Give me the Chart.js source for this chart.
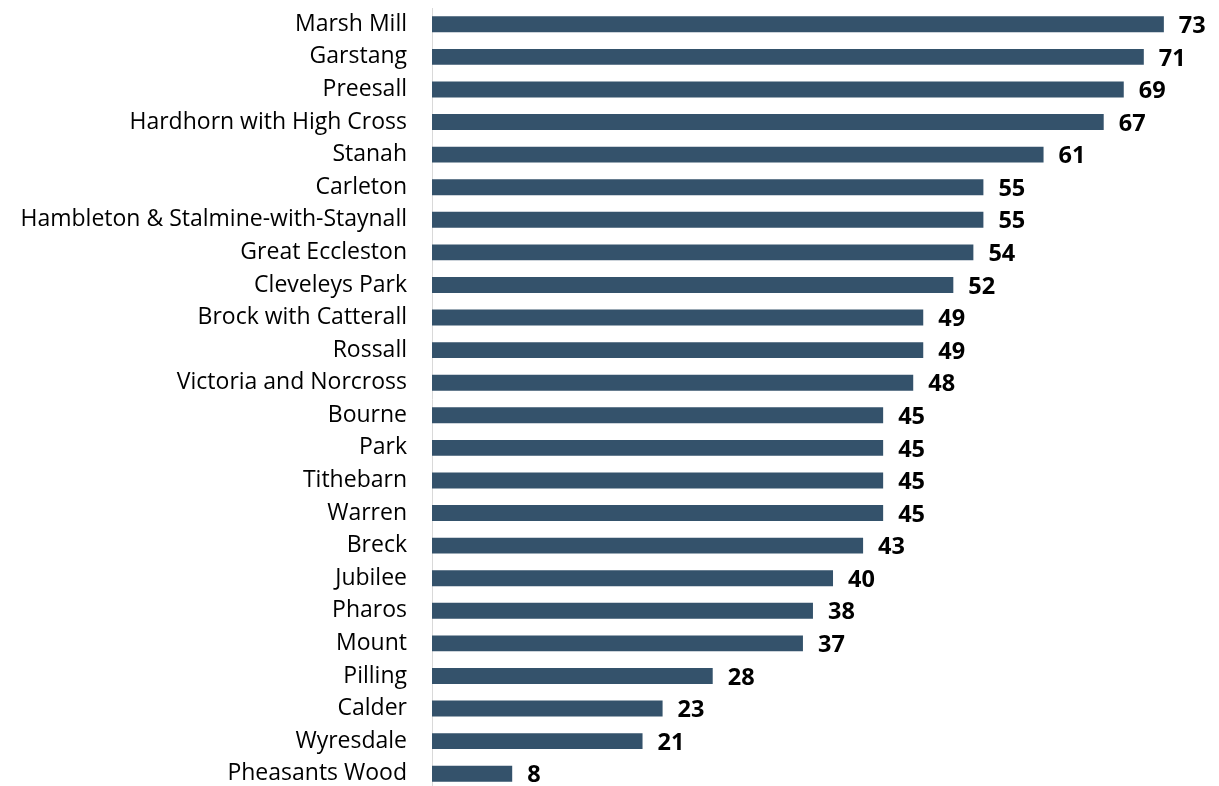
<!DOCTYPE html>
<html>
<head>
<meta charset="utf-8">
<script src="https://cdn.jsdelivr.net/npm/chart.js@4"></script>
<style>
html,body{margin:0;padding:0;background:#fff;overflow:hidden;}
#wrap{width:1219px;height:790px;position:relative;}
</style>
</head>
<body>
<div id="wrap"><canvas id="c"></canvas></div>
<script>
const categories = ["Marsh Mill","Garstang","Preesall","Hardhorn with High Cross","Stanah","Carleton","Hambleton & Stalmine-with-Staynall","Great Eccleston","Cleveleys Park","Brock with Catterall","Rossall","Victoria and Norcross","Bourne","Park","Tithebarn","Warren","Breck","Jubilee","Pharos","Mount","Pilling","Calder","Wyresdale","Pheasants Wood"];
const values = [73,71,69,67,61,55,55,54,52,49,49,48,45,45,45,45,43,40,38,37,28,23,21,8];

const labelPlugin = {
  id: 'valueLabels',
  afterDatasetsDraw(chart) {
    const ctx = chart.ctx;
    const meta = chart.getDatasetMeta(0);
    ctx.save();
    ctx.font = 'bold 23.5px "Open Sans", sans-serif';
    ctx.fillStyle = '#000';
    ctx.textAlign = 'left';
    ctx.textBaseline = 'middle';
    meta.data.forEach((el, i) => {
      ctx.fillText(String(chart.data.datasets[0].data[i]), el.x + 15, el.y + 2);
    });
    ctx.restore();
  }
};

new Chart(document.getElementById('c'), {
  type: 'bar',
  data: {
    labels: categories,
    datasets: [{
      data: values,
      backgroundColor: '#34526b',
      borderWidth: 0,
      barPercentage: 0.49,
      categoryPercentage: 1.0
    }]
  },
  options: {
    indexAxis: 'y',
    responsive: true,
    maintainAspectRatio: false,
    animation: false,
    layout: { padding: { top: 8, right: 0, bottom: 0, left: 0 } },
    plugins: { legend: { display: false }, tooltip: { enabled: false } },
    scales: {
      x: {
        min: 0, max: 78.5,
        display: false,
        grid: { display: false }
      },
      y: {
        grid: { display: false, drawTicks: false },
        border: { display: true, color: '#d9d9d9', width: 1 },
        ticks: {
          color: '#000',
          padding: 25,
          font: { family: '"Open Sans", sans-serif', size: 23 }
        },
        afterFit(scale) { scale.width = 432; scale.paddingTop = 0; scale.paddingBottom = 0; }
      }
    }
  },
  plugins: [labelPlugin]
});
</script>
</body>
</html>
